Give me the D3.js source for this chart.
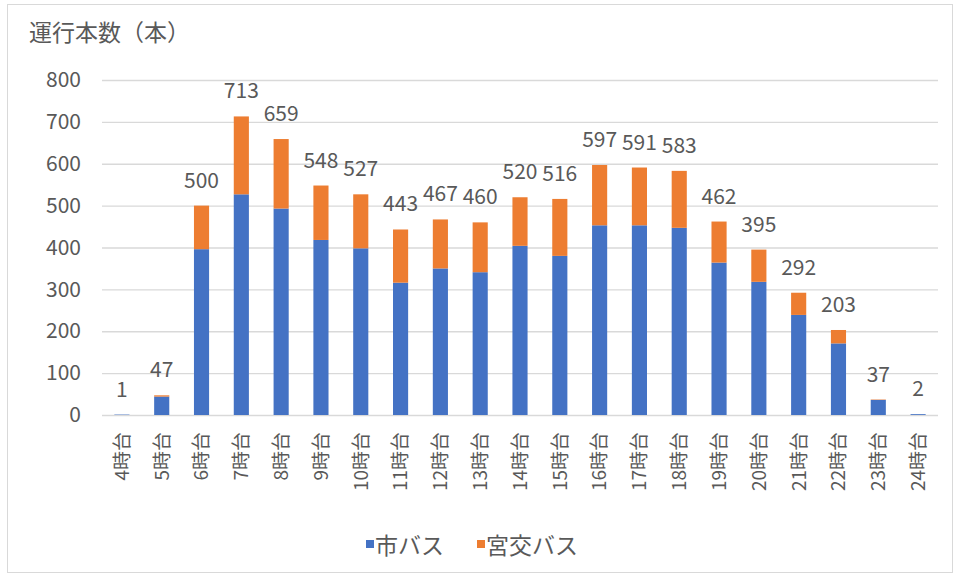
<!DOCTYPE html>
<html>
<head>
<meta charset="utf-8">
<script src="https://cdn.jsdelivr.net/npm/d3@7"></script>
<style>
  body { margin: 0; background: #fff; }
  svg text { font-family: "Noto Sans CJK JP", "Noto Sans", sans-serif; fill: #595959; }
</style>
</head>
<body>
<svg id="chart" width="959" height="577"></svg>
<script>
// hours of the day (categories)
var hours = ["4時台","5時台","6時台","7時台","8時台","9時台","10時台","11時台","12時台","13時台","14時台",
             "15時台","16時台","17時台","18時台","19時台","20時台","21時台","22時台","23時台","24時台"];
// 市バス (city bus) trips per hour
var cityBus = [1, 44, 396, 527, 493, 418, 398, 316, 350, 341, 404, 380, 453, 453, 447, 364, 318, 239, 171, 36, 2];
// 宮交バス trips per hour
var miyakoBus = [0, 3, 104, 186, 166, 130, 129, 127, 117, 119, 116, 136, 144, 138, 136, 98, 77, 53, 32, 1, 0];
var seriesNames = ["市バス", "宮交バス"];
var seriesColors = ["#4472C4", "#ED7D31"];
var yTicks = [0, 100, 200, 300, 400, 500, 600, 700, 800];

var svg = d3.select("#chart");

// outer frame
svg.append("rect")
  .attr("x", 7.5).attr("y", 4.5)
  .attr("width", 945).attr("height", 568)
  .attr("fill", "#fff").attr("stroke", "#d9d9d9");

var margin = {left: 102, right: 938, top: 80, bottom: 415};

var x = d3.scaleBand()
  .domain(hours)
  .range([margin.left, margin.right])
  .paddingInner(0.62)
  .paddingOuter(0.31);

var y = d3.scaleLinear()
  .domain([0, 800])
  .range([margin.bottom, margin.top]);

// gridlines + y labels
var yAxis = svg.append("g")
  .attr("transform", "translate(" + margin.left + ",0)")
  .call(d3.axisLeft(y).tickValues(yTicks).tickSize(-(margin.right - margin.left)).tickPadding(21));
yAxis.select(".domain").remove();
yAxis.selectAll(".tick line").attr("stroke", "#d9d9d9").attr("stroke-width", 1.3);
yAxis.selectAll(".tick text").attr("font-size", "21px").style("fill", "#595959");

// stacked data
var rows = hours.map(function(h, i) {
  return {hour: h, city: cityBus[i], miyako: miyakoBus[i]};
});
var stack = d3.stack().keys(["city", "miyako"])(rows);

svg.append("g")
  .selectAll("g")
  .data(stack)
  .enter()
  .append("g")
  .attr("fill", function(d, i) { return seriesColors[i]; })
  .selectAll("rect")
  .data(function(d) { return d; })
  .enter()
  .append("rect")
  .attr("x", function(d) { return x(d.data.hour); })
  .attr("width", x.bandwidth())
  .attr("y", function(d) { return y(d[1]); })
  .attr("height", function(d) { return y(d[0]) - y(d[1]); });

// total labels
svg.append("g")
  .selectAll("text")
  .data(rows)
  .enter()
  .append("text")
  .attr("x", function(d) { return x(d.hour) + x.bandwidth() / 2; })
  .attr("y", function(d) { return y(d.city + d.miyako) - 18; })
  .attr("text-anchor", "middle")
  .attr("font-size", "21px")
  .text(function(d) { return d.city + d.miyako; });

// x labels, rotated
var xAxis = svg.append("g")
  .attr("transform", "translate(0," + margin.bottom + ")")
  .call(d3.axisBottom(x).tickSize(0));
xAxis.select(".domain").remove();
xAxis.selectAll(".tick text")
  .attr("font-size", "19px")
  .attr("text-anchor", "end")
  .attr("transform", "translate(0,17) rotate(-90)")
  .attr("x", 0).attr("y", 0)
  .attr("dy", "0.36em")
  .style("fill", "#595959");

// title
svg.append("text")
  .attr("x", 29).attr("y", 41)
  .attr("font-size", "23px")
  .text("運行本数（本）");

// legend
var legendX = [366, 477];
var legend = svg.append("g")
  .selectAll("g")
  .data(seriesNames)
  .enter()
  .append("g")
  .attr("transform", function(d, i) { return "translate(" + legendX[i] + ",540)"; });
legend.append("rect")
  .attr("width", 8).attr("height", 8)
  .attr("fill", function(d, i) { return seriesColors[i]; });
legend.append("text")
  .attr("x", 9).attr("y", 14)
  .attr("font-size", "23px")
  .text(function(d) { return d; });
</script>
</body>
</html>
